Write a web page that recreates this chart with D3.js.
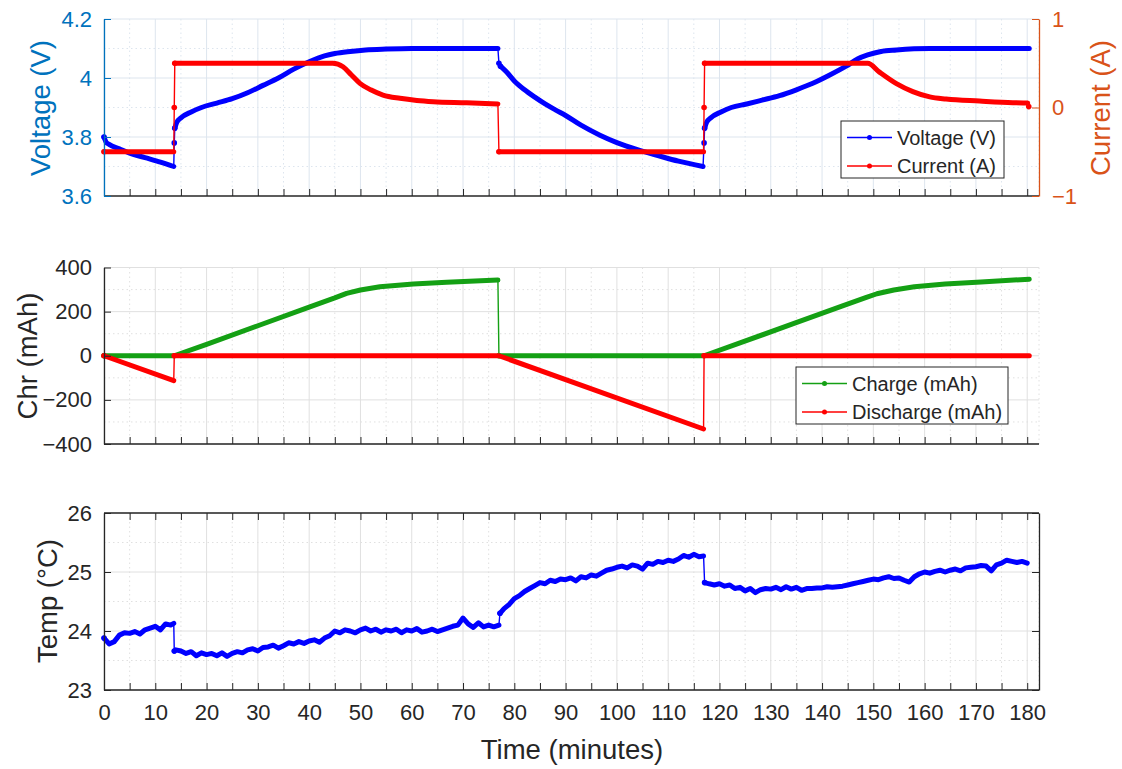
<!DOCTYPE html>
<html lang="en">
<head>
<meta charset="UTF-8">
<title>Battery charge / discharge cycle</title>
<script src="https://cdn.jsdelivr.net/npm/d3@7"></script>
<style>
  body { margin:0; background:#fff; }
  svg text { font-family:'Liberation Sans', Arial, sans-serif; }
</style>
</head>
<body>
<svg id="chart" width="1122" height="769"></svg>
<script>
// ---- values ----
const timeTicks  = [0,10,20,30,40,50,60,70,80,90,100,110,120,130,140,150,160,170,180];
const timeMinor  = [5,15,25,35,45,55,65,75,85,95,105,115,125,135,145,155,165,175];
const voltTicks  = [3.6,3.8,4.0,4.2];
const voltMinor  = [3.7,3.9,4.1];
const currTicks  = [-1,0,1];
const chrTicks   = [-400,-200,0,200,400];
const chrMinor   = [-300,-100,100,300];
const tempTicks  = [23,24,25,26];
const tempMinor  = [23.5,24.5,25.5];

const voltMin = [0,0.4,1,3,5,8,11,13.6,13.7,13.8,14.2,15,17,19,22,25,28,31,34,37,40,43,45,48,51,55,60,70,76.8,
                 77,77.3,78.5,80,82,84,86,88,90,93,96.7,100,104,108,112,116.8,
                 117,117.1,117.5,118.3,120.3,122.3,125.3,128.3,131.7,135,138.2,141.5,144.7,147,148.9,151.5,154.5,161,170,180.4];
const voltV   = [3.80,3.783,3.775,3.76,3.745,3.73,3.715,3.70,3.78,3.83,3.85,3.865,3.885,3.90,3.915,3.93,3.95,3.975,4.00,4.03,4.055,4.075,4.083,4.09,4.095,4.098,4.10,4.10,4.10,
                 4.05,4.04,4.02,3.99,3.96,3.935,3.912,3.892,3.873,3.84,3.806,3.781,3.757,3.737,3.718,3.70,
                 3.78,3.83,3.85,3.865,3.885,3.90,3.912,3.925,3.94,3.96,3.982,4.01,4.04,4.065,4.078,4.09,4.095,4.10,4.10,4.10];

const currMin = [0,13.6,13.7,13.8,44.6,46.6,48.2,49.9,52,54.4,57.7,61,64.2,70.7,76.8,77,
                 116.9,117,117.1,148.9,151.2,154.5,157.7,161,164.2,170.7,177.2,180.1,180.3];
const currA   = [-0.5,-0.5,0,0.5,0.5,0.46,0.37,0.273,0.2,0.141,0.104,0.08,0.066,0.054,0.04,-0.5,
                 -0.5,0,0.5,0.5,0.40,0.27,0.18,0.12,0.096,0.073,0.054,0.05,0.01];

const chgMin = [0,13.7,20,30,40,45,47.3,50,53.8,60.3,66.8,76.8,77,117,124,134,144,148.5,150.7,154,158,164,171,180.4];
const chgMah = [0,0,52,136,220,262,283,298,313,325,333,343,0,0,58,142,226,263,281,298,313,325,334,347];

const dchMin = [0,13.6,13.7,77,116.9,117,180.4];
const dchMah = [0,-113,0,0,-332,0,0];

const tempMin = [0,1,2,3,4,5,6,7,8,9,10,11,12,13,13.6,13.7,14,15,16,17,18,19,20,21,22,23,24,25,26,27,28,29,30,
  31,32,33,34,35,36,37,38,39,40,41,42,43,44,45,46,47,48,49,50,51,52,53,54,55,56,57,58,59,60,
  61,62,63,64,65,66,67,68,69,70,71,72,73,74,75,76,77,77.2,78,79,80,81,82,83,84,85,86,87,88,89,90,
  91,92,93,94,95,96,97,98,99,100,101,102,103,104,105,106,107,108,109,110,111,112,113,114,115,116,116.9,117.1,
  118,119,120,121,122,123,124,125,126,127,128,129,130,131,132,133,134,135,136,137,138,139,140,
  141,142,143,144,145,146,147,148,149,150,151,152,153,154,155,156,157,158,159,160,
  161,162,163,164,165,166,167,168,169,170,171,172,173,174,175,176,177,178,179,180];
const tempC = [23.88,23.78,23.82,23.93,23.97,23.96,23.99,23.95,24.02,24.05,24.08,24.02,24.12,24.10,24.13,23.66,23.68,23.66,23.62,23.65,23.58,23.63,23.60,23.62,23.58,23.63,23.57,23.62,23.65,23.63,23.68,23.70,23.66,
  23.72,23.73,23.76,23.71,23.75,23.80,23.78,23.82,23.79,23.83,23.85,23.81,23.88,23.92,24.00,23.97,24.02,24.00,23.97,24.02,24.05,24.00,24.03,23.98,24.02,24.00,24.03,23.97,24.02,24.00,
  24.04,23.98,24.00,24.03,23.99,24.02,24.05,24.08,24.10,24.22,24.12,24.06,24.14,24.07,24.10,24.07,24.10,24.30,24.38,24.45,24.55,24.60,24.67,24.72,24.77,24.82,24.80,24.86,24.84,24.88,24.87,
  24.90,24.85,24.92,24.90,24.95,24.93,24.98,25.03,25.05,25.08,25.10,25.07,25.12,25.10,25.05,25.15,25.13,25.18,25.16,25.20,25.18,25.22,25.28,25.25,25.30,25.26,25.27,24.82,
  24.80,24.78,24.80,24.76,24.78,24.72,24.74,24.68,24.72,24.65,24.70,24.72,24.71,24.74,24.70,24.75,24.71,24.74,24.69,24.72,24.72,24.73,24.73,
  24.75,24.74,24.75,24.76,24.78,24.80,24.82,24.84,24.86,24.88,24.87,24.90,24.92,24.89,24.90,24.86,24.83,24.92,24.97,25.00,
  24.98,25.01,25.03,25.00,25.03,25.05,25.02,25.07,25.08,25.09,25.11,25.10,25.02,25.12,25.15,25.20,25.18,25.16,25.18,25.15];

// ---- layout ----
const svg = d3.select("#chart");
const left = 104, right = 1039;
const ink = "#262626", blueAx = "#0072BD", orangeAx = "#D95319";
const x = d3.scaleLinear().domain([0, 182.3]).range([left, right]);

const yVolt = d3.scaleLinear().domain([3.6, 4.2]).range([196, 19]);
const yCurr = d3.scaleLinear().domain([-1, 1]).range([196, 19]);
const yChr  = d3.scaleLinear().domain([-400, 400]).range([444, 267.5]);
const yTemp = d3.scaleLinear().domain([23, 26]).range([690, 513]);

function drawGrid(y, major, minor, col) {
  const bot = y.range()[0], top = y.range()[1];
  const g = svg.append("g");
  const vline = (vals, dash) => g.append("g").selectAll("line").data(vals).join("line")
      .attr("x1", d => x(d)).attr("x2", d => x(d)).attr("y1", top).attr("y2", bot)
      .attr("stroke", col).attr("stroke-width", 1).attr("stroke-dasharray", dash);
  const hline = (vals, dash) => g.append("g").selectAll("line").data(vals).join("line")
      .attr("x1", left).attr("x2", right).attr("y1", d => y(d)).attr("y2", d => y(d))
      .attr("stroke", col).attr("stroke-width", 1).attr("stroke-dasharray", dash);
  vline(timeMinor, "1.5,3"); hline(minor, "1.5,3");
  vline(timeTicks, null); hline(major, null);
  // right edge dotted
  g.append("line").attr("x1", right).attr("x2", right).attr("y1", top).attr("y2", bot)
    .attr("stroke", col).attr("stroke-dasharray", "1.5,3");
}

function drawSeries(y, ts, vs, color, w, smooth) {
  const pts = ts.map((t, i) => [x(t), y(vs[i])]);
  svg.append("path").attr("d", d3.line()(pts)).attr("fill", "none")
    .attr("stroke", color).attr("stroke-width", 1.4);
  // dense marker look: thick runs, thin at fast jumps
  let runs = [], cur = [pts[0]];
  for (let i = 1; i < ts.length; i++) {
    if (ts[i] - ts[i-1] < 0.3) { runs.push(cur); cur = [pts[i]]; }
    else cur.push(pts[i]);
  }
  runs.push(cur);
  const ln = d3.line().curve(smooth ? d3.curveMonotoneX : d3.curveLinear);
  runs.forEach(r => {
    if (r.length > 1) {
      svg.append("path").attr("d", ln(r)).attr("fill", "none").attr("stroke", color)
        .attr("stroke-width", w).attr("stroke-linecap", "round").attr("stroke-linejoin", "round");
    }
    svg.append("circle").attr("cx", r[0][0]).attr("cy", r[0][1]).attr("r", w / 2 + 0.3).attr("fill", color);
  });
}

function styleAxis(g, col, size) {
  g.attr("font-family", null).attr("font-size", size);
  g.selectAll(".domain").attr("stroke", col).attr("stroke-width", 1.3);
  g.selectAll(".tick line").attr("stroke", col);
  g.selectAll(".tick text").attr("fill", col);
}

function xAxes(y, withLabels, boxTop) {
  const bot = y.range()[0], top = y.range()[1];
  const gMin = svg.append("g").attr("transform", `translate(0,${bot})`)
    .call(d3.axisBottom(x).tickValues(timeMinor).tickSize(-7).tickSizeOuter(0).tickFormat(""));
  gMin.select(".domain").remove();
  gMin.selectAll("line").attr("stroke", ink);
  const g = svg.append("g").attr("transform", `translate(0,${bot})`)
    .call(d3.axisBottom(x).tickValues(timeTicks).tickSize(-7).tickSizeOuter(0).tickPadding(14)
      .tickFormat(withLabels ? d3.format("d") : ""));
  g.select(".domain").attr("d", `M${left},0H${right}`);
  styleAxis(g, ink, 22);
  if (boxTop) {
    const t = svg.append("g").attr("transform", `translate(0,${top})`)
      .call(d3.axisTop(x).tickValues(timeTicks.concat(timeMinor)).tickSize(-7).tickSizeOuter(0).tickFormat(""));
    t.select(".domain").attr("d", `M${left},0H${right}`);
    styleAxis(t, ink, 22);
  }
}

function yAxisLeft(y, ticks, col, fmt) {
  const g = svg.append("g").attr("transform", `translate(${left},0)`)
    .call(d3.axisLeft(y).tickValues(ticks).tickSize(-7).tickSizeOuter(0).tickPadding(12).tickFormat(fmt));
  styleAxis(g, col, 22);
}

function yLabel(text, cx, cy, col) {
  svg.append("text").attr("transform", `translate(${cx},${cy}) rotate(-90)`)
    .attr("text-anchor", "middle").attr("dominant-baseline", "central")
    .attr("font-size", 27.5).attr("fill", col).text(text);
}

function legend(x0, y0, w, h, rows) {
  const g = svg.append("g");
  g.append("rect").attr("x", x0).attr("y", y0).attr("width", w).attr("height", h)
    .attr("fill", "#fff").attr("stroke", ink).attr("stroke-width", 1);
  rows.forEach((r, i) => {
    const yy = y0 + 16.5 + i * 28.5;
    g.append("line").attr("x1", x0 + 6).attr("x2", x0 + 51).attr("y1", yy).attr("y2", yy)
      .attr("stroke", r.color).attr("stroke-width", 1.5);
    g.append("circle").attr("cx", x0 + 28.5).attr("cy", yy).attr("r", 2.5).attr("fill", r.color);
    g.append("text").attr("x", x0 + 56).attr("y", yy).attr("dominant-baseline", "central")
      .attr("font-size", 20).attr("fill", ink).text(r.name);
  });
}

// ---- top: voltage / current ----
drawGrid(yVolt, [3.8, 4.0, 4.2], voltMinor, "#dde5ee");
drawSeries(yVolt, voltMin, voltV, "#0000FF", 5, true);
drawSeries(yCurr, currMin, currA, "#FF0000", 5, true);
xAxes(yVolt, false, false);
yAxisLeft(yVolt, voltTicks, blueAx, d3.format(".1~f"));
{
  const g = svg.append("g").attr("transform", `translate(${right},0)`)
    .call(d3.axisRight(yCurr).tickValues(currTicks).tickSize(-7).tickSizeOuter(0).tickPadding(13).tickFormat(d3.format("d")));
  styleAxis(g, orangeAx, 22);
}
yLabel("Voltage (V)", 40, 108, blueAx);
yLabel("Current (A)", 1100, 108, orangeAx);
legend(841, 121, 163, 57, [{name: "Voltage (V)", color: "#0000FF"}, {name: "Current (A)", color: "#FF0000"}]);

// ---- middle: charge / discharge ----
drawGrid(yChr, chrTicks, chrMinor, "#e0e0e0");
drawSeries(yChr, chgMin, chgMah, "#14a014", 5, false);
drawSeries(yChr, dchMin, dchMah, "#FF0000", 5, false);
xAxes(yChr, false, false);
yAxisLeft(yChr, chrTicks, ink, d3.format("d"));
yLabel("Chr (mAh)", 27, 356, ink);
legend(796, 367, 212, 57, [{name: "Charge (mAh)", color: "#14a014"}, {name: "Discharge (mAh)", color: "#FF0000"}]);

// ---- bottom: temperature ----
drawGrid(yTemp, tempTicks, tempMinor, "#e0e0e0");
drawSeries(yTemp, tempMin, tempC, "#0000FF", 5, false);
xAxes(yTemp, true, true);
yAxisLeft(yTemp, tempTicks, ink, d3.format("d"));
{
  const g = svg.append("g").attr("transform", `translate(${right},0)`)
    .call(d3.axisRight(yTemp).tickValues(tempTicks).tickSize(-7).tickSizeOuter(0).tickFormat(""));
  styleAxis(g, ink, 22);
}
yLabel("Temp (°C)", 47, 601, ink);
svg.append("text").attr("x", 572).attr("y", 759).attr("text-anchor", "middle")
  .attr("font-size", 27.5).attr("fill", ink).text("Time (minutes)");
</script>
</body>
</html>
